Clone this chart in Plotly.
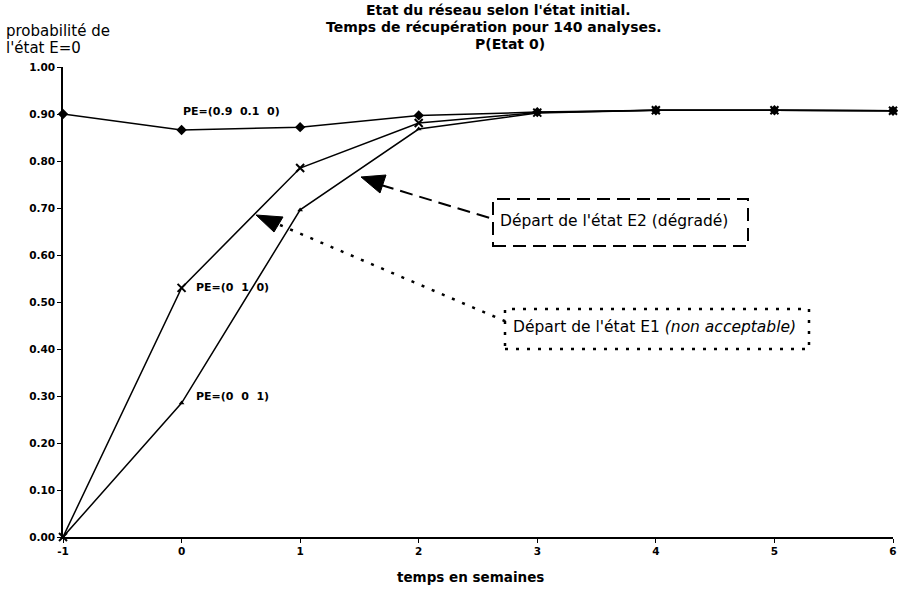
import plotly.graph_objects as go

weeks = [-1, 0, 1, 2, 3, 4, 5, 6]
pe_09_01_0 = [0.900, 0.866, 0.872, 0.897, 0.904, 0.908, 0.908, 0.907]
pe_0_1_0 = [0.000, 0.530, 0.785, 0.881, 0.903, 0.908, 0.908, 0.907]
pe_0_0_1 = [0.000, 0.285, 0.696, 0.868, 0.902, 0.908, 0.908, 0.907]
y_ticks = [0.0, 0.1, 0.2, 0.3, 0.4, 0.5, 0.6, 0.7, 0.8, 0.9, 1.0]

FONT = "DejaVu Sans, Arial, sans-serif"
W, H = 898, 596
L, R, T, B = 63, 5, 67, 59
PW, PH = W - L - R, H - T - B
XMIN, XMAX, YMIN, YMAX = -1, 6, 0.0, 1.0


def px_x(px):
    return XMIN + (px - L) / PW * (XMAX - XMIN)


def px_y(py):
    return YMIN + (T + PH - py) / PH * (YMAX - YMIN)


def paper_x(px):
    return (px - L) / PW


def paper_y(py):
    return (T + PH - py) / PH


fig = go.Figure()
common = dict(mode="lines+markers", line=dict(color="black", width=1.5), cliponaxis=False,
              showlegend=False)
fig.add_trace(go.Scatter(x=weeks, y=pe_09_01_0, name="PE=(0.9 0.1 0)",
                         marker=dict(symbol="diamond", size=8, color="black"), **common))
fig.add_trace(go.Scatter(x=weeks, y=pe_0_1_0, name="PE=(0 1 0)",
                         marker=dict(symbol="x-thin", size=8, color="black",
                                     line=dict(width=2, color="black")), **common))
fig.add_trace(go.Scatter(x=weeks, y=pe_0_0_1, name="PE=(0 0 1)",
                         marker=dict(symbol="triangle-up", size=5, color="black"), **common))

# series labels
lab_font = dict(family=FONT, size=11, color="black", weight="bold")
fig.add_annotation(x=weeks[1], y=pe_09_01_0[1], text="PE=(0.9  0.1  0)", showarrow=False,
                   xanchor="left", yanchor="middle", xshift=-1, yshift=18, font=lab_font)
fig.add_annotation(x=weeks[1], y=pe_0_1_0[1], text="PE=(0  1  0)", showarrow=False,
                   xanchor="left", yanchor="middle", xshift=12, yshift=0, font=lab_font)
fig.add_annotation(x=weeks[1], y=pe_0_0_1[1], text="PE=(0  0  1)", showarrow=False,
                   xanchor="left", yanchor="middle", xshift=12, yshift=7, font=lab_font)

# callout boxes
fig.add_shape(type="rect", x0=px_x(493), x1=px_x(748), y0=px_y(246), y1=px_y(199),
              xref="x", yref="y", line=dict(color="black", width=2, dash="13px,7px"))
fig.add_shape(type="rect", x0=px_x(505), x1=px_x(809), y0=px_y(349), y1=px_y(309),
              xref="x", yref="y", line=dict(color="black", width=2.5, dash="3px,8px"))
# leader lines
fig.add_shape(type="line", x0=px_x(381), y0=px_y(185), x1=px_x(493), y1=px_y(219),
              xref="x", yref="y", line=dict(color="black", width=2, dash="13px,7px"))
fig.add_shape(type="line", x0=px_x(280), y0=px_y(225), x1=px_x(507), y1=px_y(322),
              xref="x", yref="y", line=dict(color="black", width=2.5, dash="3px,8px"))


def tri(pts):
    return "M " + " L ".join(f"{px_x(a):.4f},{px_y(b):.4f}" for a, b in pts) + " Z"


fig.add_shape(type="path", path=tri([(361, 177), (386, 175), (380, 193)]), xref="x", yref="y",
              fillcolor="black", line=dict(color="black", width=1))
fig.add_shape(type="path", path=tri([(256, 215), (283, 217), (274, 232)]), xref="x", yref="y",
              fillcolor="black", line=dict(color="black", width=1))

box_font = dict(family=FONT, size=15.5, color="black")
fig.add_annotation(x=paper_x(498), y=paper_y(221), xref="paper", yref="paper",
                   text="Départ de l'état E2 (dégradé)", xanchor="left", yanchor="middle",
                   showarrow=False, font=box_font)
fig.add_annotation(x=paper_x(511), y=paper_y(327), xref="paper", yref="paper",
                   text="Départ de l'état E1 <i>(non acceptable)</i>", xanchor="left",
                   yanchor="middle", showarrow=False, font=box_font)

# title lines
title_font = dict(family=FONT, size=14, color="black", weight="bold")
title_lines = ["Etat du réseau selon l'état initial.",
               "Temps de récupération pour 140 analyses.",
               "P(Etat 0)"]
for txt, cx, cy in zip(title_lines, [498, 494, 510], [10, 27, 44]):
    fig.add_annotation(x=paper_x(cx), y=paper_y(cy), xref="paper", yref="paper", text=txt,
                       showarrow=False, xanchor="center", yanchor="middle", font=title_font)

# y axis label lines
for txt, cy in zip(["probabilité de", "l'état E=0"], [31, 48]):
    fig.add_annotation(x=paper_x(4), y=paper_y(cy), xref="paper", yref="paper", text=txt,
                       showarrow=False, xanchor="left", yanchor="middle",
                       font=dict(family=FONT, size=15, color="black"))

# x axis title
fig.add_annotation(x=paper_x(470), y=paper_y(577), xref="paper", yref="paper",
                   text="temps en semaines", showarrow=False, xanchor="center", yanchor="middle",
                   font=dict(family=FONT, size=13.5, color="black", weight="bold"))

tick_font = dict(family=FONT, size=10.5, color="black", weight="bold")
fig.update_layout(
    width=W, height=H,
    margin=dict(l=L, r=R, t=T, b=B, autoexpand=False),
    paper_bgcolor="white", plot_bgcolor="white",
    font=dict(family=FONT, color="black"),
    xaxis=dict(range=[XMIN, XMAX], tickvals=weeks, ticktext=[str(w) for w in weeks],
               showgrid=False, zeroline=False, showline=True, linecolor="black", linewidth=1.5,
               ticks="outside", ticklen=4, tickcolor="black", automargin=False,
               tickfont=tick_font),
    yaxis=dict(range=[YMIN, YMAX], tickvals=y_ticks, ticktext=[f"{v:.2f}" for v in y_ticks],
               showgrid=False, zeroline=False, showline=True, linecolor="black", linewidth=1.5,
               ticks="outside", ticklen=4, tickcolor="black", automargin=False,
               tickfont=tick_font),
)

fig.write_html("out.html", config={"displayModeBar": False},
               post_script="document.body.style.margin='0';document.body.style.overflow='hidden';")
